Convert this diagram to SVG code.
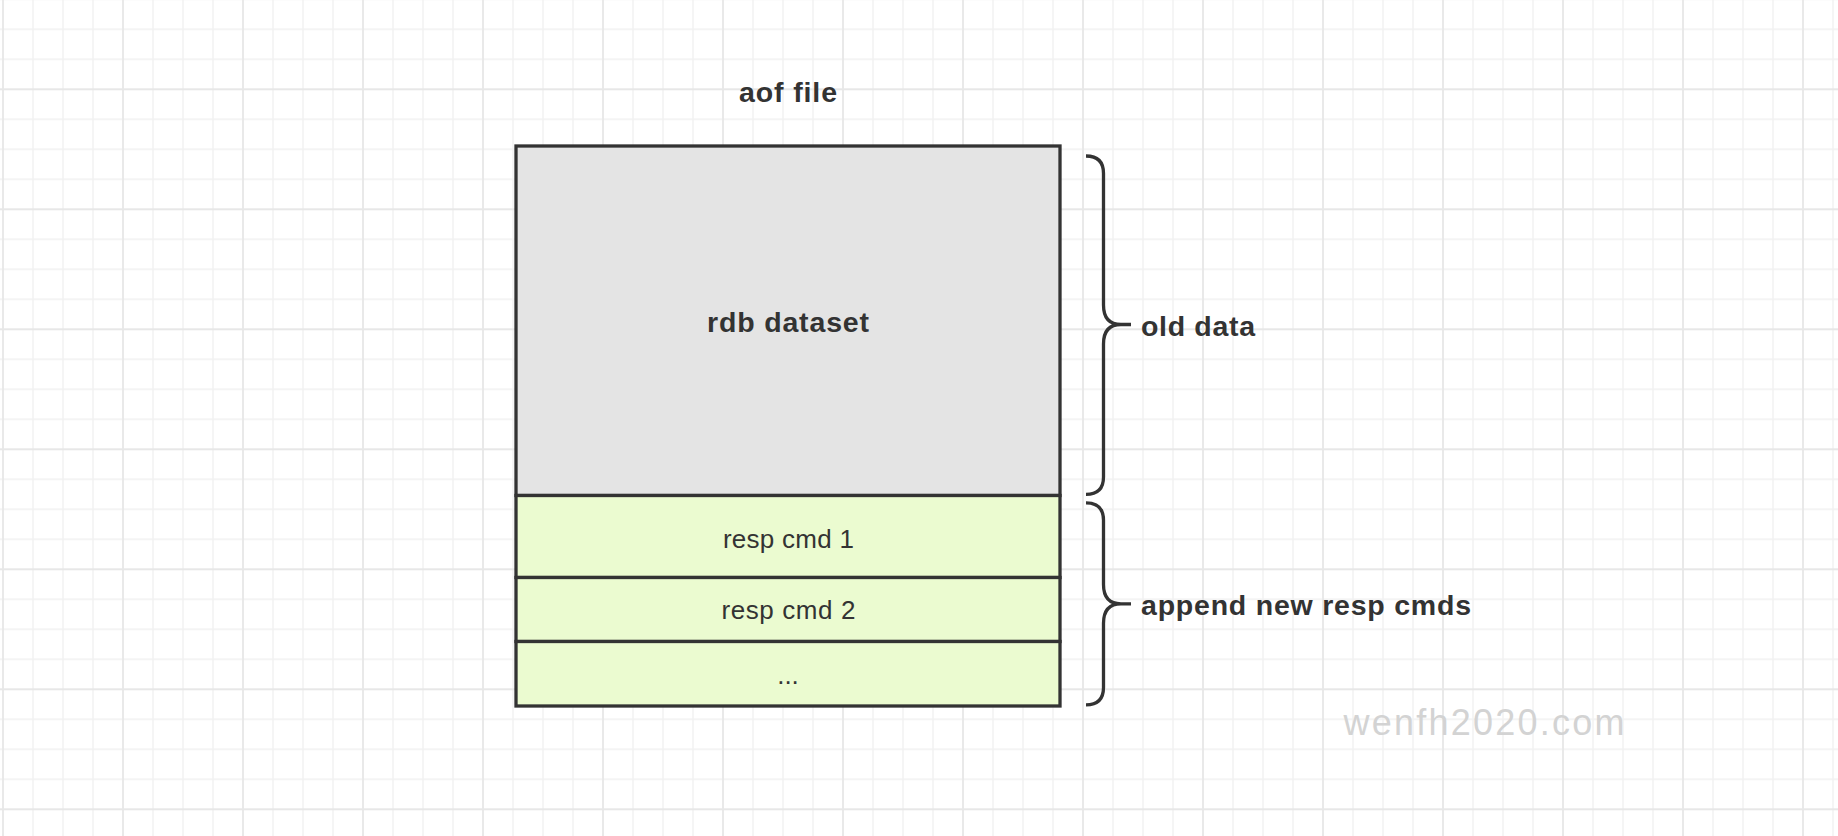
<svg xmlns="http://www.w3.org/2000/svg" width="1838" height="836" viewBox="0 0 1838 836">
  <defs>
    <pattern id="grid" patternUnits="userSpaceOnUse" x="-102" y="-15.7" width="120" height="120">
      <g stroke="#f1f1f1" stroke-width="1.4" fill="none">
        <line x1="15" y1="0" x2="15" y2="120"/>
        <line x1="45" y1="0" x2="45" y2="120"/>
        <line x1="75" y1="0" x2="75" y2="120"/>
        <line x1="0" y1="15" x2="120" y2="15"/>
        <line x1="0" y1="45" x2="120" y2="45"/>
        <line x1="0" y1="75" x2="120" y2="75"/>
      </g>
      <g stroke="#e7e7e7" stroke-width="1.8" fill="none">
        <line x1="105" y1="0" x2="105" y2="120"/>
        <line x1="0" y1="105" x2="120" y2="105"/>
      </g>
    </pattern>
    <style>
      .box { stroke: #333333; stroke-width: 3.3; }
      .gray { fill: #e4e4e4; }
      .green { fill: #ebfbd0; }
      .title { font-family: "Liberation Sans", Arial, sans-serif; font-weight: bold; font-size: 28.5px; fill: #333333; }
      .label { font-family: "Liberation Sans", Arial, sans-serif; font-size: 26px; fill: #333333; }
      .brace { fill: none; stroke: #333333; stroke-width: 3.3; stroke-linecap: butt; }
      .mark { font-family: "Liberation Sans", Arial, sans-serif; font-size: 36px; fill: #d3d3d3; }
    </style>
  </defs>

  <rect x="0" y="0" width="1838" height="836" fill="#ffffff"/>
  <rect x="0" y="0" width="1838" height="836" fill="url(#grid)"/>

  <g id="title">
    <text class="title" x="788" y="101.5" text-anchor="middle" textLength="98" lengthAdjust="spacing">aof file</text>
  </g>

  <g id="rdb-dataset">
    <rect class="box gray" x="516" y="146" width="544" height="349.5"/>
    <text class="title" x="788" y="331.5" text-anchor="middle" textLength="162" lengthAdjust="spacing">rdb dataset</text>
  </g>

  <g id="resp-cmd-1">
    <rect class="box green" x="516" y="495.5" width="544" height="82"/>
    <text class="label" x="788.4" y="548.3" text-anchor="middle" textLength="131" lengthAdjust="spacing">resp cmd 1</text>
  </g>

  <g id="resp-cmd-2">
    <rect class="box green" x="516" y="577.5" width="544" height="64"/>
    <text class="label" x="788.4" y="619.3" text-anchor="middle" textLength="134" lengthAdjust="spacing">resp cmd 2</text>
  </g>

  <g id="resp-cmd-more">
    <rect class="box green" x="516" y="641.5" width="544" height="64.5"/>
    <text class="label" x="788" y="684" text-anchor="middle">...</text>
  </g>

  <g id="connectors">
    <path class="brace" d="M1086,156 Q1103.5,156 1103.5,173.5 L1103.5,305 Q1103.5,324.5 1121,324.5 L1131,324.5 M1121,324.5 Q1103.5,324.5 1103.5,344 L1103.5,477 Q1103.5,494.3 1086,494.3"/>
    <path class="brace" d="M1086,502.8 Q1103.5,502.8 1103.5,520.3 L1103.5,584.5 Q1103.5,603.8 1121,603.8 L1131,603.8 M1121,603.8 Q1103.5,603.8 1103.5,623.3 L1103.5,687.5 Q1103.5,704.8 1086,704.8"/>
  </g>

  <g id="old-data-label">
    <text class="title" x="1141" y="336" textLength="114" lengthAdjust="spacing">old data</text>
  </g>

  <g id="append-label">
    <text class="title" x="1141" y="615.3" textLength="330" lengthAdjust="spacing">append new resp cmds</text>
  </g>

  <g id="watermark">
    <text class="mark" x="1343.5" y="735" textLength="281" lengthAdjust="spacing">wenfh2020.com</text>
  </g>
</svg>
